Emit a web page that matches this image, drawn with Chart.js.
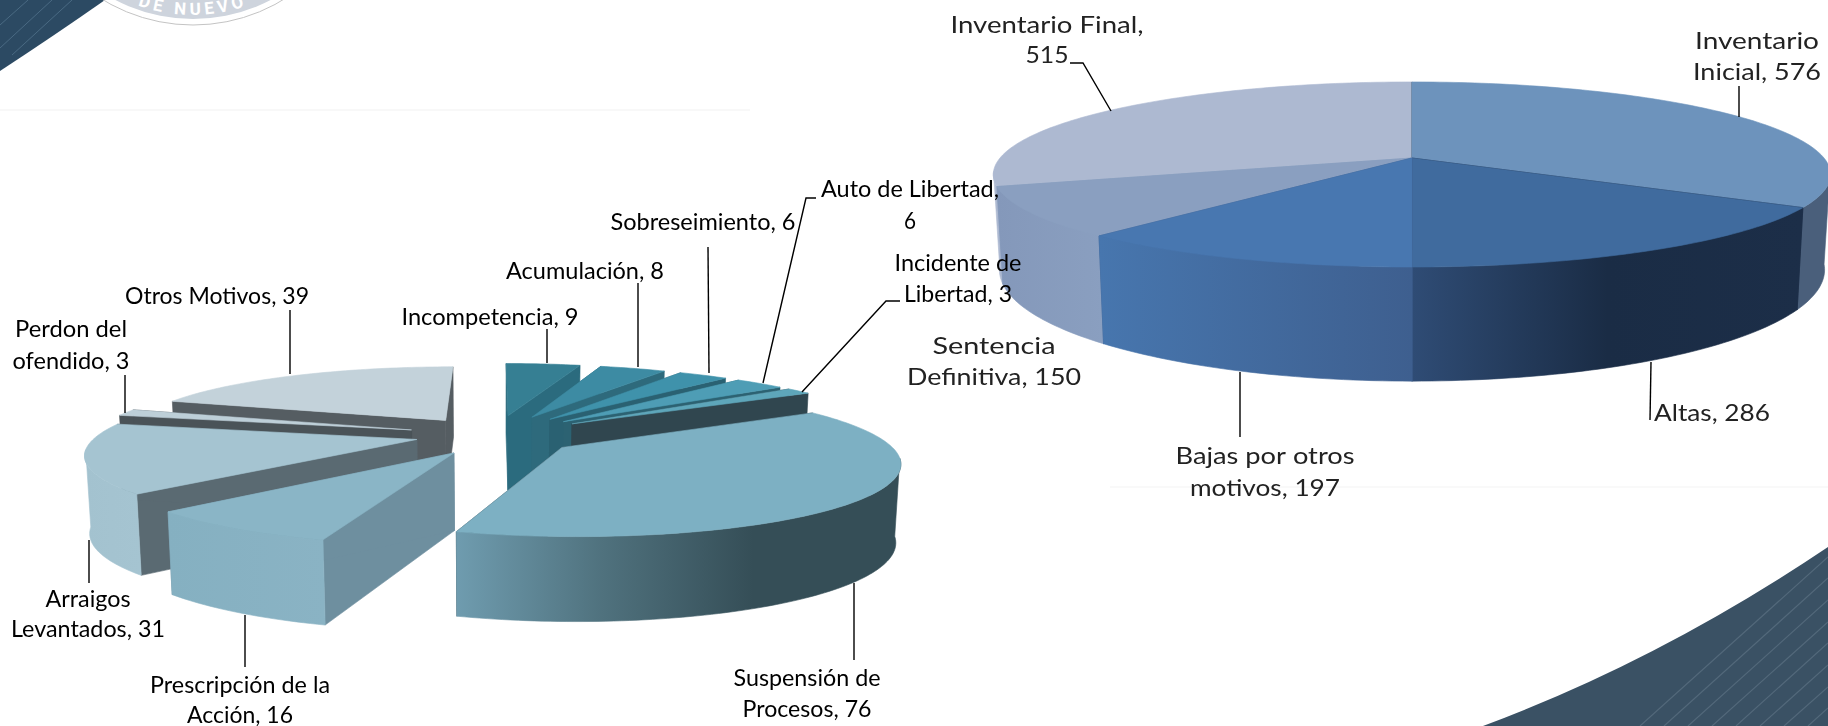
<!DOCTYPE html>
<html><head><meta charset="utf-8">
<script src="https://cdn.jsdelivr.net/npm/chart.js@4"></script>
<style>
html,body{margin:0;padding:0;background:#fff;width:1828px;height:726px;overflow:hidden}
svg,canvas{position:absolute;left:0;top:0}
</style></head><body>
<svg width="1828" height="726" viewBox="0 0 1828 726">
  <defs><clipPath id="sw"><path d="M1483,726 Q1660,660 1828,547 L1828,726Z"/></clipPath>
  <clipPath id="tl"><path d="M0,0 L105,0 Q55,35 0,71Z"/></clipPath>
  <path id="sealArc" d="M58,-56 A164,164 0 0 0 328,-56"/></defs>
  <rect x="0" y="109" width="750" height="2" fill="#f8f8f8"/>
  <rect x="1110" y="486" width="718" height="2" fill="#f9f9f9"/>
  <path d="M0,0 L105,0 Q55,35 0,71Z" fill="#2c4a63"/>
  <g clip-path="url(#tl)" stroke="#4a6a83" stroke-width="1" fill="none">
    <path d="M0,25 L28,0M0,48 L52,0M12,55 L72,0"/>
  </g>
  <circle cx="193" cy="-149" r="174" fill="#fff" stroke="#c4c4c4" stroke-width="1"/>
  <circle cx="193" cy="-149" r="168" fill="#ced4dd"/>
  <text font-family="Roboto" font-weight="700" font-size="17" letter-spacing="4" fill="#fff"><textPath href="#sealArc" startOffset="50%" text-anchor="middle">DE NUEVO</textPath></text>
  <path d="M1483,726 Q1660,660 1828,547 L1828,726Z" fill="#3a5164"/>
  <g clip-path="url(#sw)" stroke="#52687a" stroke-width="1.2" fill="none">
    <path d="M1640,726 L1828,557M1664,726 L1828,578M1688,726 L1828,600M1712,726 L1828,622M1736,726 L1828,643M1760,726 L1828,665M1784,726 L1828,687M1808,726 L1828,708"/>
  </g>
</svg>
<canvas id="right" width="1828" height="726"></canvas>
<canvas id="left" width="1828" height="726"></canvas>
<script>
// ---- data ----
const rightCategories = ["Inventario Inicial","Altas","Bajas por otros motivos","Sentencia Definitiva","Inventario Final"];
const rightValues     = [576,286,197,150,515];
const rightBreaks     = [1,0,3,1,2];
const leftCategories  = ["Incompetencia","Acumulación","Sobreseimiento","Auto de Libertad","Incidente de Libertad","Suspensión de Procesos","Prescripción de la Acción","Arraigos Levantados","Perdon del ofendido","Otros Motivos"];
const leftValues      = [9,8,6,6,3,76,16,31,3,39];
const leftBreaks      = [0,0,0,3,2,2,3,1,2,0];

// ---- styles and layout ----
const rightTop   = ["#6D93BC","#406B9E","#4877B0","#8A9FC0","#ADB9D1"];
const rightInner = ["#4A5F7B","#1C2E48","#3E5F8F","#8A9FC0","#ADB9D1"];
const rightOuter = [["#4A5F7B","#4A5F7B"],["#2F4C75","#1A2C45","#1C2E48"],["#4776AE","#3E5F8F"],["#8498BA","#8A9FC0"],["#ADB9D1","#ADB9D1"]];
const leftTop    = ["#367F93","#3D8BA3","#3F92AB","#4E9DB5","#5EA6BA","#7DB0C3","#8AB5C6","#A5C4D1","#BDCFD8","#C3D2DA"];
const leftInner  = ["#2B6B7E","#2E6A7C","#2A6172","#2C6272","#30464F","#2F4650","#6E8F9F","#5A6A72","#4A5358","#555D62"];
const leftOuter  = [["#2B6B7E","#2B6B7E"],["#2E6A7C","#2E6A7C"],["#2A6172","#2A6172"],["#2C6272","#2C6272"],["#30464F","#30464F"],
                    ["#6F9CAF","#4F717D","#354E57","#354E57"],["#85B0C1","#8AB3C4"],["#A3C2CF","#A5C4D1"],["#BDCFD8","#BDCFD8"],["#C3D2DA","#C3D2DA"]];
const leftExplode = [96,96,96,96,96,82,80,80,88,88];
const leftNudge   = [[0,0],[0,0],[0,0],[0,0],[0,0],[0,0.02],[0.01,0.04],[0,0],[0,0],[0,0]];
const rightNudge  = [[0,0],[0,0],[0,0],[0,0],[0,0]];
const rightCam = {cx:1412,cy:158,R:412,S:89.6,k:0.178,by:250,bR:406,bS:107.8};
const leftCam  = {cx:495,cy:435,R:320,S:68,k:0.18,by:511,bR:316,bS:74};
const rightPlace = [
  {x:1757,y:[41,72],w:[124,128]},{x:1712,y:[413],w:[116]},{x:1265,y:[456,488],w:[179,150]},
  {x:994,y:[346,377],w:[123,174]},{x:1047,y:[25,55],w:[193,43]}];
const leftPlace = [
  {x:490,y:[318],w:[177]},{x:585,y:[272],w:[158]},{x:703,y:[223],w:[185]},
  {x:910,y:[190,222],w:[178,12]},{x:958,y:[264,295],w:[127,108]},{x:807,y:[679,710],w:[147,129]},
  {x:240,y:[686,716],w:[180,106]},{x:88,y:[600,630],w:[85,154]},{x:71,y:[330,362],w:[112,117]},{x:217,y:[297],w:[184]}];
const rightLeaders = [[[1739,86],[1739,117]],[[1651,362],[1650,420]],[[1240,372],[1240,437]],[[1070,63],[1083,63],[1111,111]]];
const leftLeaders = [[[290,310],[290,374]],[[125,375],[125,413]],[[547,329],[547,363]],[[638,283],[638,367]],[[708,247],[709,373]],
  [[816,198],[806,198],[763,383]],[[900,301],[886,301],[802,392]],[[854,583],[854,660]],[[245,615],[245,667]],[[89,540],[89,583]]];

function splitLabel(cat,val,brk){
  const words=(cat+", "+val).split(" ");
  return brk?[words.slice(0,brk).join(" "),words.slice(brk).join(" ")]:[words.join(" ")];
}

const pie3d = {
  id:'pie3d',
  beforeDatasetDraw(chart,args,o){
    const ctx=chart.ctx, cam=o.cam;
    const meta=chart.getDatasetMeta(0);
    const topPt=(X,Z)=>{const w=1/(1-cam.k*Z);return [cam.cx+cam.R*X*w,cam.cy+cam.S*Z*w];};
    const botPt=(X,Z)=>{const w=1/(1-cam.k*Z);return [cam.cx+cam.bR*X*w,cam.by+cam.bS*Z*w];};
    const slices=meta.data.map((el,i)=>{
      const t1=el.startAngle+Math.PI/2, t2=el.endAngle+Math.PI/2, m=(t1+t2)/2;
      const e=(el.options.offset||0)/cam.R;
      const ox=e*Math.sin(m)+o.nudge[i][0], oz=-e*Math.cos(m)+o.nudge[i][1];
      return {i,t1,t2,ox,oz,depth:oz-0.6*Math.cos(m)};
    }).sort((a,b)=>a.depth-b.depth);
    const poly=(pts,fill)=>{
      ctx.beginPath();pts.forEach((p,j)=>j?ctx.lineTo(p[0],p[1]):ctx.moveTo(p[0],p[1]));ctx.closePath();
      ctx.fillStyle=fill;ctx.fill();ctx.strokeStyle=fill;ctx.lineWidth=0.6;ctx.stroke();
    };
    ctx.save();
    for(const s of slices){
      const rim=[],ang=[],n=Math.max(4,Math.ceil((s.t2-s.t1)/0.02));
      for(let j=0;j<=n;j++){const t=s.t1+(s.t2-s.t1)*j/n;ang.push(t);rim.push([s.ox+Math.sin(t),s.oz-Math.cos(t)]);}
      const A=[s.ox,s.oz],first=rim[0],last=rim[rim.length-1];
      // cut faces
      for(const e of [first,last]) poly([topPt(...A),topPt(...e),botPt(...e),botPt(...A)],o.inner[s.i]);
      // outer wall: only the strips that face the viewer, filled as one path so no seams appear
      const tops=rim.map(p=>topPt(...p)),bots=rim.map(p=>botPt(...p));
      const keep=[];for(let j=0;j<=n;j++) if(-Math.cos(ang[j])>=cam.k-0.05) keep.push(j);
      if(keep.length>1){
        const xs=keep.flatMap(j=>[tops[j][0],bots[j][0]]);
        const g=ctx.createLinearGradient(Math.min(...xs),0,Math.max(...xs),0);
        const st=o.outer[s.i];st.forEach((c,j)=>g.addColorStop(j/(st.length-1),c));
        const path=[...keep.map(j=>tops[j]),...keep.slice().reverse().map(j=>bots[j])];
        poly(path,g);
      }
      // top face
      poly([topPt(...A)].concat(tops),o.top[s.i]);
    }
    // leaders and labels
    ctx.strokeStyle='#000';ctx.lineWidth=1.4;
    for(const l of o.leaders){ctx.beginPath();l.forEach((p,j)=>j?ctx.lineTo(p[0],p[1]):ctx.moveTo(p[0],p[1]));ctx.stroke();}
    ctx.fillStyle=o.color;ctx.font=o.font;ctx.textBaseline='middle';ctx.textAlign='left';
    chart.data.labels.forEach((c,i)=>{
      const lines=splitLabel(c,chart.data.datasets[0].data[i],o.breaks[i]),pl=o.place[i];
      lines.forEach((t,j)=>{
        const sx=pl.w[j]/ctx.measureText(t).width;
        ctx.save();ctx.translate(pl.x-pl.w[j]/2,pl.y[j]);ctx.scale(sx,1);ctx.fillText(t,0,0);ctx.restore();
      });
    });
    ctx.restore();
    return false;
  }
};

function make(id,labels,values,offsets,opt){
  return new Chart(document.getElementById(id),{
    type:'pie',
    data:{labels,datasets:[{data:values,offset:offsets,backgroundColor:opt.top,borderWidth:0}]},
    options:{responsive:false,animation:false,rotation:0,
      plugins:{legend:{display:false},tooltip:{enabled:false},pie3d:opt}},
    plugins:[pie3d]
  });
}
make('right',rightCategories,rightValues,0,{cam:rightCam,nudge:rightNudge,top:rightTop,inner:rightInner,outer:rightOuter,
  leaders:rightLeaders,breaks:rightBreaks,place:rightPlace,font:'24px Lato',color:'#222'});
make('left',leftCategories,leftValues,leftExplode,{cam:leftCam,nudge:leftNudge,top:leftTop,inner:leftInner,outer:leftOuter,
  leaders:leftLeaders,breaks:leftBreaks,place:leftPlace,font:'23px Lato',color:'#000'});
</script>
</body></html>
